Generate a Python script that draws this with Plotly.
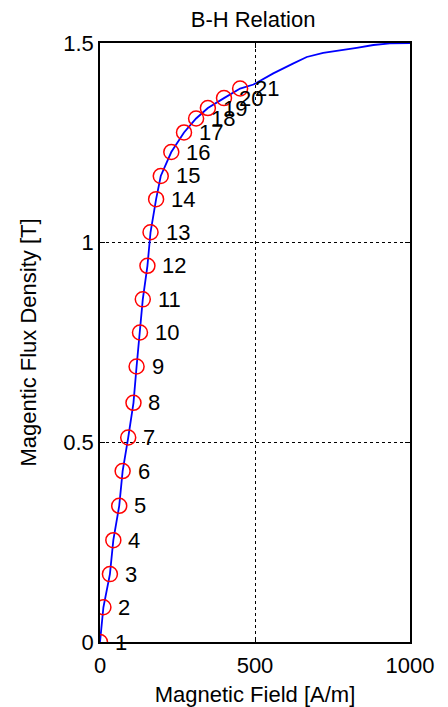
import plotly.graph_objects as go

# Marker points
point_labels = [str(i) for i in range(1, 22)]
point_H = [0, 11, 32, 43, 62, 73, 91, 108, 118, 129, 138, 153, 163, 181, 196, 230, 271, 310, 348, 400, 452]
point_B = [0.0, 0.087, 0.170, 0.255, 0.341, 0.428, 0.512, 0.599, 0.690, 0.775, 0.858, 0.942,
           1.026, 1.109, 1.167, 1.227, 1.276, 1.311, 1.337, 1.362, 1.386]

# Continuation of the curve past the last marker
tail_H = [495, 559, 624, 667, 720, 774, 828, 882, 935, 1000]
tail_B = [1.396, 1.424, 1.449, 1.465, 1.475, 1.481, 1.488, 1.495, 1.499, 1.5]

curve_H = point_H + tail_H
curve_B = point_B + tail_B

x_ticks = [0, 500, 1000]
y_ticks = [0, 0.5, 1, 1.5]
y_tick_text = ["0", "0.5", "1", "1.5"]

FONT = "Liberation Sans, Arial, sans-serif"
FS = 22

fig = go.Figure()
fig.add_trace(go.Scatter(x=curve_H, y=curve_B, mode="lines",
                         line=dict(color="#0000ff", width=1.8),
                         hoverinfo="skip", showlegend=False))
fig.add_trace(go.Scatter(x=point_H, y=point_B, mode="markers",
                         marker=dict(symbol="circle-open", size=15, color="#ff0000",
                                     line=dict(width=1.5, color="#ff0000")),
                         showlegend=False))

for lab, h, b in zip(point_labels, point_H, point_B):
    fig.add_annotation(x=h, y=b, text=lab, showarrow=False, xanchor="left", yanchor="middle",
                       xshift=13, font=dict(family=FONT, size=FS, color="black"))

axis_common = dict(showline=True, linecolor="black", linewidth=1.5, mirror="ticks",
                   ticks="inside", ticklen=5, tickcolor="black", tickwidth=1,
                   showgrid=True, gridcolor="black", gridwidth=1, griddash="dot",
                   zeroline=False, automargin=False,
                   tickfont=dict(family=FONT, size=FS, color="black"))

fig.update_xaxes(range=[0, 1000], tickvals=x_ticks, ticktext=[str(v) for v in x_ticks],
                 ticklabelstandoff=3,
                 title=dict(text="Magnetic Field [A/m]", font=dict(family=FONT, size=FS, color="black"),
                            standoff=9), **axis_common)
fig.update_yaxes(range=[0, 1.5], tickvals=y_ticks, ticktext=y_tick_text,
                 title=dict(text="Magentic Flux Density [T]", font=dict(family=FONT, size=FS, color="black"),
                            standoff=21), **axis_common)

fig.update_layout(width=440, height=699, margin=dict(l=92, r=38, t=35, b=65),
                  paper_bgcolor="white", plot_bgcolor="white",
                  title=dict(text="B-H Relation", x=0.557, xanchor="center", y=0.984, yanchor="middle",
                             font=dict(family=FONT, size=FS, color="black")))

fig.write_html("out.html")
